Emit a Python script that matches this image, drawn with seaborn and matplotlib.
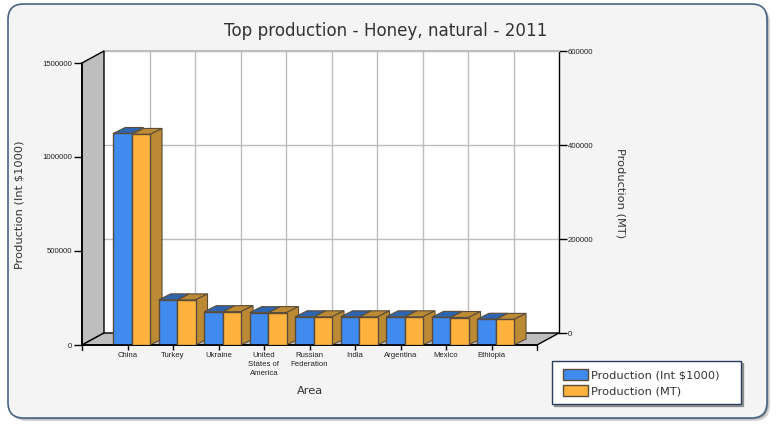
import matplotlib
matplotlib.use("Agg")
import matplotlib.pyplot as plt
import pandas as pd
import seaborn as sns
from matplotlib.patches import FancyBboxPatch, Polygon, Patch

areas = ["China", "Turkey", "Ukraine", "United\nStates of\nAmerica", "Russian\nFederation",
         "India", "Argentina", "Mexico", "Ethiopia"]
int_values = [1125000, 240000, 177000, 172000, 150000, 150000, 150000, 147000, 137000]
mt_values = [448000, 96000, 71000, 69000, 60000, 60000, 60000, 58500, 54500]
left_ticks = [0, 500000, 1000000, 1500000]
right_ticks = [0, 200000, 400000, 600000]
S1, S2 = "Production (Int $1000)", "Production (MT)"
BLUE, BLUE_TOP = "#3F8BEF", "#2F65AE"
ORANGE, ORANGE_SIDE = "#FFB33E", "#BC8A35"
EDGE = "#5A4C38"
WALL = "#BEBEBE"
GRID = "#BDBDBD"
TXT = "#333333"
TICK_FS = 5.6

sns.set_style("white")
plt.rcParams["font.family"] = ["DejaVu Sans"]
W, H = 776, 429
fig = plt.figure(figsize=(W / 100, H / 100), dpi=100, facecolor="white")


def rect(x0, x1, ytop, ybot):
    return [x0 / W, 1 - ybot / H, (x1 - x0) / W, (ybot - ytop) / H]


def fx(x):
    return x / W


def fy(y):
    return 1 - y / H


# card with shadow
for off, col, a in [(3, "#B0B0B0", 0.5), (1.5, "#808080", 0.55)]:
    fig.add_artist(FancyBboxPatch((fx(8 + off), fy(418 + off)), 759 / W, 414 / H,
                                  boxstyle="round,pad=0,rounding_size=0.02", mutation_aspect=W / H,
                                  transform=fig.transFigure, fc=col, ec="none", alpha=a))
fig.add_artist(FancyBboxPatch((fx(8), fy(418)), 759 / W, 414 / H,
                              boxstyle="round,pad=0,rounding_size=0.02", mutation_aspect=W / H,
                              transform=fig.transFigure, fc="#F4F4F4", ec="#4A6484", lw=1.2))

DX, DY = 22, 12
X0, X1, YT, YB = 82, 537, 63, 345

# back wall with right axis
back = fig.add_axes(rect(X0 + DX, X1 + DX, YT - DY, YB - DY), zorder=1, facecolor="white")
back.set_xlim(0, 10)
back.set_ylim(0, 600000)
back.set_xticks(range(1, 10))
back.set_yticks(right_ticks)
back.set_yticklabels([str(t) for t in right_ticks], fontsize=TICK_FS, family="Liberation Sans", color="#222222")
back.yaxis.tick_right()
back.tick_params(axis="y", length=5.8, width=1, color="black", pad=0.5, right=True, left=False)
back.tick_params(axis="x", length=0, labelbottom=False)
back.grid(True, color=GRID, lw=1)
back.set_axisbelow(True)
for s in ["left", "bottom"]:
    back.spines[s].set_visible(False)
back.spines["top"].set_color(GRID)
back.spines["top"].set_linewidth(1.5)
back.spines["right"].set_color("black")
back.spines["right"].set_linewidth(1)

# front plane: two value scales over the same categories
df = pd.DataFrame({"Area": areas * 2, "Series": [S1] * 9 + [S2] * 9, "Value": int_values + mt_values})
ax = fig.add_axes(rect(X0, X1, YT, YB), zorder=2, facecolor="none")
ax2 = fig.add_axes(rect(X0, X1, YT, YB), zorder=3, facecolor="none")
sns.barplot(data=df[df.Series == S1], x="Area", y="Value", hue="Series", hue_order=[S1, S2], order=areas,
            palette={S1: BLUE, S2: ORANGE}, saturation=1, width=0.81, dodge=True, legend=False,
            edgecolor=EDGE, linewidth=1, errorbar=None, ax=ax)
sns.barplot(data=df[df.Series == S2], x="Area", y="Value", hue="Series", hue_order=[S1, S2], order=areas,
            palette={S1: BLUE, S2: ORANGE}, saturation=1, width=0.81, dodge=True, legend=False,
            edgecolor=EDGE, linewidth=1, errorbar=None, ax=ax2)

SHIFT = 0.09
xlim = (-1 - SHIFT, 9 - SHIFT)
unit = (X1 - X0) / (xlim[1] - xlim[0])
dx = 12 / unit
blue_bars = [b for b in ax.patches if b.get_height() > 0]
orange_bars = [b for b in ax2.patches if b.get_height() > 0]
for a, ymax in [(ax, 1500000), (ax2, 600000)]:
    a.set_xlim(*xlim)
    a.set_ylim(0, ymax)
    a.set_xlabel("")
    a.set_ylabel("")

# depth faces: orange faces sit under the blue fronts of the following category
dy = 6 / (YB - YT) * 1500000
for bar in blue_bars:
    x0, x1, h = bar.get_x(), bar.get_x() + bar.get_width(), bar.get_height()
    ax.add_patch(Polygon([(x0, h), (x1, h), (x1 + dx, h + dy), (x0 + dx, h + dy)], closed=True,
                         fc=BLUE_TOP, ec=EDGE, lw=0.8, clip_on=False, zorder=0.6))
dy = 6 / (YB - YT) * 600000
for bar in orange_bars:
    x0, x1, h = bar.get_x(), bar.get_x() + bar.get_width(), bar.get_height()
    ax.add_patch(Polygon([(x0, h), (x1, h), (x1 + dx, h + dy), (x0 + dx, h + dy)], closed=True,
                         transform=ax2.transData, fc=ORANGE_SIDE, ec=EDGE, lw=0.8, clip_on=False, zorder=0.5))
    ax.add_patch(Polygon([(x1, 0), (x1, h), (x1 + dx, h + dy), (x1 + dx, dy)], closed=True,
                         transform=ax2.transData, fc=ORANGE_SIDE, ec=EDGE, lw=0.8, clip_on=False, zorder=0.5))
ax.set_xlim(*xlim)
ax.set_ylim(0, 1500000)

ax2.axis("off")
ax.set_xticks([i - SHIFT for i in range(9)])
ax.set_xticklabels(areas, fontsize=TICK_FS, family="Liberation Sans", color="#222222", linespacing=1.4)
ax.set_yticks(left_ticks)
ax.set_yticklabels([str(t) for t in left_ticks], fontsize=TICK_FS, family="Liberation Sans", color="#222222")
ax.tick_params(axis="x", length=3.6, width=1, color="black", pad=1.5, bottom=True)
ax.tick_params(axis="y", length=5.8, width=1, color="black", pad=1.5, left=True)
for s in ["top", "right"]:
    ax.spines[s].set_visible(False)
for s in ["left", "bottom"]:
    ax.spines[s].set_color("black")
    ax.spines[s].set_linewidth(1.2)

# walls (between back wall and bars)
wall_l = [(X0, YT), (X0 + DX, YT - DY), (X0 + DX, YB - DY), (X0, YB)]
floor = [(X0, YB), (X0 + DX, YB - DY), (X1 + DX, YB - DY), (X1, YB)]
for pts in (wall_l, floor):
    p = Polygon([(fx(x), fy(y)) for x, y in pts], closed=True, transform=fig.transFigure,
                fc=WALL, ec="black", lw=1, zorder=1.5)
    fig.add_artist(p)
# ticks at both ends of the front edge
ax.plot([1, 1], [0, -5 / (YB - YT)], transform=ax.transAxes, color="black", lw=1, clip_on=False)
ax.plot([0, 0], [0, -5 / (YB - YT)], transform=ax.transAxes, color="black", lw=1, clip_on=False)

# texts
fig.text(fx(386), fy(31), "Top production - Honey, natural - 2011", ha="center", va="center",
         fontsize=12.05, color=TXT)
fig.text(fx(20), fy(205), S1, rotation=90, ha="center", va="center", fontsize=8.2, color=TXT)
fig.text(fx(621), fy(193), S2, rotation=270, ha="center", va="center", fontsize=8.2, color=TXT)
fig.text(fx(310), fy(391), "Area", ha="center", va="center", fontsize=8.2, color=TXT)

handles = [Patch(fc=BLUE, ec=EDGE, lw=1, label=S1), Patch(fc=ORANGE, ec=EDGE, lw=1, label=S2)]
leg = fig.legend(handles=handles, loc="lower left", bbox_to_anchor=(fx(552), fy(404), 189 / W, 42 / H),
                 mode="expand", borderaxespad=0, frameon=True, fancybox=False,
                 shadow={"color": "#777777", "alpha": 0.7, "ox": 1.5, "oy": -1.5},
                 framealpha=1, edgecolor="#2A3D5C", facecolor="white", fontsize=8.2, labelcolor=TXT,
                 handlelength=2.4, handleheight=1.1, labelspacing=0.35, handletextpad=0.33, borderpad=0.7)
for h in leg.legend_handles:
    h.set_x(2.2)
    h.set_width(18)
leg.get_frame().set_linewidth(1)
leg.set_zorder(10)

fig.savefig("out.png", dpi=100, facecolor="white")
